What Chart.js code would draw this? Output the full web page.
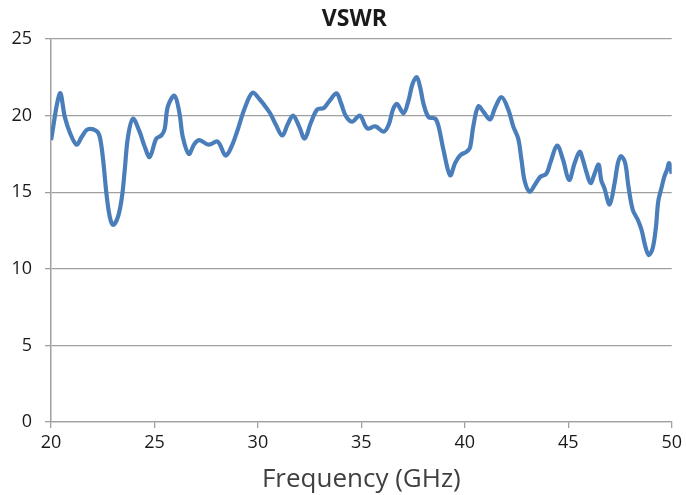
<!DOCTYPE html>
<html>
<head>
<meta charset="utf-8">
<script src="https://cdn.jsdelivr.net/npm/chart.js@4.4.1/dist/chart.umd.min.js"></script>
<style>
  html, body { margin: 0; padding: 0; background: #fff; }
  #wrap { width: 686px; height: 495px; }
</style>
</head>
<body>
<div id="wrap"><canvas id="vswrChart" width="686" height="495"></canvas></div>
<script>
// frequency in GHz, VSWR
const freq = [
  20.00, 20.43, 20.67, 20.91, 21.24, 21.48, 21.77, 22.20, 22.36, 22.52,
  22.68, 22.84, 23.00, 23.24, 23.43, 23.56, 23.72, 23.96, 24.28, 24.53,
  24.77, 25.09, 25.33, 25.49, 25.65, 25.97, 26.21, 26.37, 26.66, 26.93,
  27.17, 27.62, 28.06, 28.43, 28.70, 29.02, 29.34, 29.74, 30.06, 30.30,
  30.59, 30.87, 31.18, 31.43, 31.70, 31.99, 32.26, 32.55, 32.87, 33.19,
  33.48, 33.80, 34.02, 34.24, 34.55, 34.93, 35.28, 35.68, 36.08, 36.32,
  36.53, 36.72, 37.04, 37.28, 37.48, 37.68, 37.85, 38.00, 38.25, 38.57,
  38.73, 38.97, 39.29, 39.53, 39.77, 40.09, 40.25, 40.41, 40.65, 40.90,
  41.22, 41.46, 41.78, 42.10, 42.34, 42.58, 42.74, 42.90, 43.14, 43.38,
  43.65, 43.94, 44.13, 44.46, 44.75, 45.04, 45.31, 45.55, 45.71, 45.87,
  46.08, 46.27, 46.47, 46.59, 46.75, 47.00, 47.24, 47.40, 47.55, 47.75,
  47.91, 48.12, 48.36, 48.55, 48.71, 48.89, 49.08, 49.24, 49.35, 49.52,
  49.64, 49.77, 49.88, 50.00
];
const vswr = [
  18.4, 21.45, 19.9, 18.9, 18.1, 18.6, 19.1, 19.0, 18.6, 17.1,
  14.9, 13.4, 12.86, 13.4, 14.7, 16.4, 18.6, 19.8, 18.95, 17.97,
  17.3, 18.5, 18.7, 19.1, 20.6, 21.3, 20.15, 18.6, 17.5, 18.15,
  18.4, 18.1, 18.3, 17.4, 17.9, 19.06, 20.4, 21.5, 21.1, 20.7,
  20.15, 19.4, 18.7, 19.4, 20.0, 19.3, 18.5, 19.5, 20.4, 20.5,
  21.0, 21.45, 20.8, 20.0, 19.6, 20.0, 19.17, 19.3, 18.95, 19.4,
  20.4, 20.76, 20.15, 21.0, 22.1, 22.5, 21.8, 20.8, 19.9, 19.8,
  19.3, 17.75, 16.1, 16.9, 17.4, 17.65, 17.9, 19.3, 20.6, 20.25,
  19.75, 20.5, 21.2, 20.4, 19.3, 18.5, 17.1, 15.7, 15.03, 15.47,
  16.0, 16.2, 16.9, 18.04, 17.1, 15.8, 16.9, 17.65, 17.1, 16.35,
  15.6, 16.2, 16.8, 15.8, 15.25, 14.2, 15.6, 16.9, 17.36, 16.9,
  15.36, 13.84, 13.2, 12.5, 11.55, 10.9, 11.34, 12.75, 14.4, 15.36,
  16.0, 16.45, 16.9, 16.2
];
const xTicks = [20, 25, 30, 35, 40, 45, 50];
const yTicks = [0, 5, 10, 15, 20, 25];

const gridGray = '#a0a0a0';
const textColor = '#1a1a1a';
const fontFamily = '"Open Sans", "DejaVu Sans", sans-serif';

// title centred over the plot area, like the original
const plotTitle = {
  id: 'plotTitle',
  afterDraw(chart) {
    const { ctx, chartArea } = chart;
    ctx.save();
    ctx.font = 'bold 23px ' + fontFamily;
    ctx.fillStyle = textColor;
    ctx.textAlign = 'center';
    ctx.textBaseline = 'middle';
    ctx.fillText('VSWR', (chartArea.left + chartArea.right) / 2 - 7, 19);
    ctx.restore();
  }
};

new Chart(document.getElementById('vswrChart'), {
  type: 'line',
  data: {
    datasets: [{
      label: 'VSWR',
      data: freq.map((f, i) => ({ x: f, y: vswr[i] })),
      borderColor: '#4a7ebb',
      borderWidth: 4.2,
      pointRadius: 0,
      tension: 0.35,
      fill: false
    }]
  },
  options: {
    responsive: false,
    animation: false,
    layout: { padding: { left: 0, right: 12, top: 39, bottom: 0 } },
    plugins: {
      legend: { display: false },
      tooltip: { enabled: false },
      title: { display: false }
    },
    scales: {
      x: {
        type: 'linear',
        min: 20,
        max: 50,
        afterBuildTicks: (axis) => { axis.ticks = xTicks.map(v => ({ value: v })); },
        afterFit: (axis) => { axis.height = 73; },
        grid: {
          drawOnChartArea: false,
          drawTicks: true,
          tickLength: 6,
          color: gridGray,
          lineWidth: 1.3
        },
        border: { display: true, color: gridGray, width: 1.3 },
        ticks: {
          padding: 4,
          color: textColor,
          font: { family: fontFamily, size: 18 }
        },
        title: {
          display: true,
          text: 'Frequency (GHz)',
          color: '#404040',
          font: { family: fontFamily, size: 26 },
          padding: { top: 2, bottom: 0 }
        }
      },
      y: {
        min: 0,
        max: 25,
        afterBuildTicks: (axis) => { axis.ticks = yTicks.map(v => ({ value: v })); },
        afterFit: (axis) => { axis.width = 51; },
        grid: {
          drawTicks: true,
          tickLength: 6,
          color: gridGray,
          lineWidth: 1.3
        },
        border: { display: true, color: gridGray, width: 1.5 },
        ticks: {
          padding: 13,
          color: textColor,
          font: { family: fontFamily, size: 18 }
        }
      }
    }
  },
  plugins: [plotTitle]
});
</script>
</body>
</html>
